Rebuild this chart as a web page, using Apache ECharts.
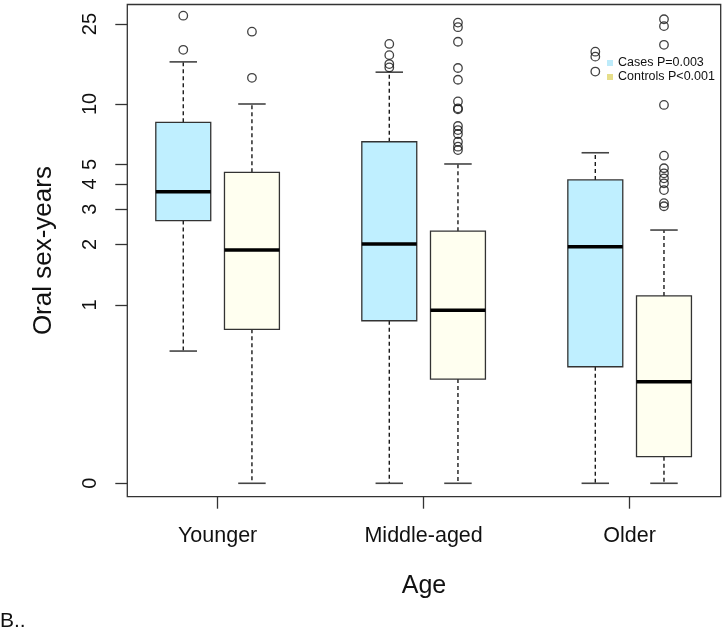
<!DOCTYPE html>
<html>
<head>
<meta charset="utf-8">
<script src="https://cdn.jsdelivr.net/npm/echarts@6/dist/echarts.min.js"></script>
<style>
html,body{margin:0;padding:0;background:#fff;}
#chart{width:728px;height:633px;}
</style>
</head>
<body>
<div id="chart"></div>
<script>
// ---- data (oral sex-years) ----
const groups = ['Younger', 'Middle-aged', 'Older'];
const seriesNames = ['Cases P=0.003', 'Controls P<0.001'];
// [min, Q1, median, Q3, max]
const casesBox = [
  [0.59, 2.63, 3.66, 8.11, 16.2],
  [0, 0.835, 2.01, 6.49, 14.4],
  [0, 0.493, 1.95, 4.19, 5.72]
];
const controlsBox = [
  [0, 0.757, 1.88, 4.57, 10.0],
  [0, 0.428, 0.941, 2.33, 5.03],
  [0, 0.176, 0.415, 1.11, 2.36]
];
const casesOutliers = [
  [27.5, 18.6],
  [19.9, 17.5, 15.8, 15.2],
  [18.2, 17.2, 14.5]
];
const controlsOutliers = [
  [22.9, 13.5],
  [25.4, 24.1, 20.4, 15.1, 13.2, 10.3, 9.52, 9.4, 7.77, 7.42, 7.09, 6.49, 6.13, 5.9],
  [26.4, 24.4, 19.7, 9.89, 5.53, 4.79, 4.52, 4.27, 4.03, 3.73, 3.21, 3.1]
];
const yTicks = [0, 1, 2, 3, 4, 5, 10, 25];

// ---- scale transform (log10, zero placed below) ----
const ZERO_T = -0.887;
function t(v) { return v > 0 ? Math.log10(v) : ZERO_T; }

const FONT = '"Liberation Sans", Arial, sans-serif';
const casesFill = '#BFEFFF';
const controlsFill = '#FFFFF0';
const casesKey = '#BDEBFA';
const controlsKey = '#E6DE8A';

const casePos = groups.map((g, i) => 3 * i + 1);
const ctrlPos = groups.map((g, i) => 3 * i + 2);
const groupTicks = groups.map((g, i) => 3 * i + 1.5);

const labelMap = {};
yTicks.forEach(v => { labelMap[t(v).toFixed(4)] = String(v); });

function makeRender(fill) {
  return function (params, api) {
    const x = api.value(0);
    const c = k => api.coord([x, api.value(k)]);
    const pMin = c(1), pQ1 = c(2), pMed = c(3), pQ3 = c(4), pMax = c(5);
    const half = api.size([0.4, 0])[0];
    const sh = half / 2;
    const cx = pMed[0];
    const dash = { stroke: '#1a1a1a', lineWidth: 1.4, lineDash: [4, 3] };
    const solid = { stroke: '#444', lineWidth: 1.6 };
    return {
      type: 'group',
      children: [
        { type: 'line', shape: { x1: cx, y1: pQ3[1], x2: cx, y2: pMax[1] }, style: dash },
        { type: 'line', shape: { x1: cx, y1: pQ1[1], x2: cx, y2: pMin[1] }, style: dash },
        { type: 'line', shape: { x1: cx - sh, y1: pMax[1], x2: cx + sh, y2: pMax[1] }, style: solid },
        { type: 'line', shape: { x1: cx - sh, y1: pMin[1], x2: cx + sh, y2: pMin[1] }, style: solid },
        { type: 'rect', shape: { x: cx - half, y: pQ3[1], width: 2 * half, height: pQ1[1] - pQ3[1] },
          style: { fill: fill, stroke: '#333', lineWidth: 1.3 } },
        { type: 'line', shape: { x1: cx - half, y1: pMed[1], x2: cx + half, y2: pMed[1] },
          style: { stroke: '#000', lineWidth: 3.5 } }
      ]
    };
  };
}

const chart = echarts.init(document.getElementById('chart'), null, { renderer: 'canvas' });
const option = {
  animation: false,
  backgroundColor: '#fff',
  grid: {
    left: 127.3, right: 7.3, top: 4.5, bottom: 136.3,
    show: true, borderColor: '#333', borderWidth: 1.3, backgroundColor: 'transparent',
    outerBoundsMode: 'none', containLabel: false
  },
  legend: {
    data: seriesNames,
    orient: 'vertical',
    left: 602, top: 51,
    icon: 'rect', itemWidth: 6, itemHeight: 6, itemGap: 0,
    selectedMode: false,
    itemStyle: { borderWidth: 0 },
    textStyle: { fontFamily: FONT, fontSize: 12.5, color: '#111', lineHeight: 14 }
  },
  xAxis: {
    type: 'value', min: 0.185, max: 8.826,
    splitLine: { show: false },
    axisLine: { show: false, onZero: false },
    axisTick: { show: true, customValues: groupTicks, length: 12, lineStyle: { color: '#333', width: 1.3 } },
    axisLabel: {
      customValues: groupTicks, margin: 39, verticalAlign: 'middle',
      fontFamily: FONT, fontSize: 21.5, color: '#111',
      formatter: v => groups[Math.round((v - 1.5) / 3)] || ''
    },
    name: 'Age', nameLocation: 'middle', nameGap: 89,
    nameTextStyle: { fontFamily: FONT, fontSize: 25, color: '#111', verticalAlign: 'middle' }
  },
  yAxis: {
    type: 'value', min: -0.9537, max: 1.495,
    splitLine: { show: false },
    axisLine: { show: false, onZero: false },
    axisTick: { show: true, customValues: yTicks.map(t), length: 12, lineStyle: { color: '#333', width: 1.3 } },
    axisLabel: {
      customValues: yTicks.map(t), rotate: 90, margin: 27,
      fontFamily: FONT, fontSize: 20, color: '#111',
      formatter: v => labelMap[Number(v).toFixed(4)] || ''
    },
    name: 'Oral sex-years', nameLocation: 'middle', nameGap: 83, nameRotate: 90,
    nameTextStyle: { fontFamily: FONT, fontSize: 26, color: '#111', verticalAlign: 'middle' }
  },
  graphic: [
    { type: 'text', left: 0, top: 611, style: { text: 'B..', font: '21px ' + FONT, fill: '#111' } }
  ],
  series: [
    {
      name: seriesNames[0], type: 'custom', renderItem: makeRender(casesFill),
      itemStyle: { color: casesKey },
      encode: { x: 0, y: [1, 2, 3, 4, 5] },
      data: casesBox.map((s, i) => [casePos[i]].concat(s.map(t))),
      z: 2, silent: true
    },
    {
      name: seriesNames[1], type: 'custom', renderItem: makeRender(controlsFill),
      itemStyle: { color: controlsKey },
      encode: { x: 0, y: [1, 2, 3, 4, 5] },
      data: controlsBox.map((s, i) => [ctrlPos[i]].concat(s.map(t))),
      z: 2, silent: true
    },
    {
      type: 'scatter', symbol: 'circle', symbolSize: 8.5, silent: true, z: 3,
      itemStyle: { color: 'rgba(0,0,0,0)', borderColor: '#111', borderWidth: 1.3 },
      data: casesOutliers.flatMap((arr, i) => arr.map(v => [casePos[i], t(v)]))
    },
    {
      type: 'scatter', symbol: 'circle', symbolSize: 8.5, silent: true, z: 3,
      itemStyle: { color: 'rgba(0,0,0,0)', borderColor: '#111', borderWidth: 1.3 },
      data: controlsOutliers.flatMap((arr, i) => arr.map(v => [ctrlPos[i], t(v)]))
    }
  ]
};
chart.setOption(option);
</script>
</body>
</html>
